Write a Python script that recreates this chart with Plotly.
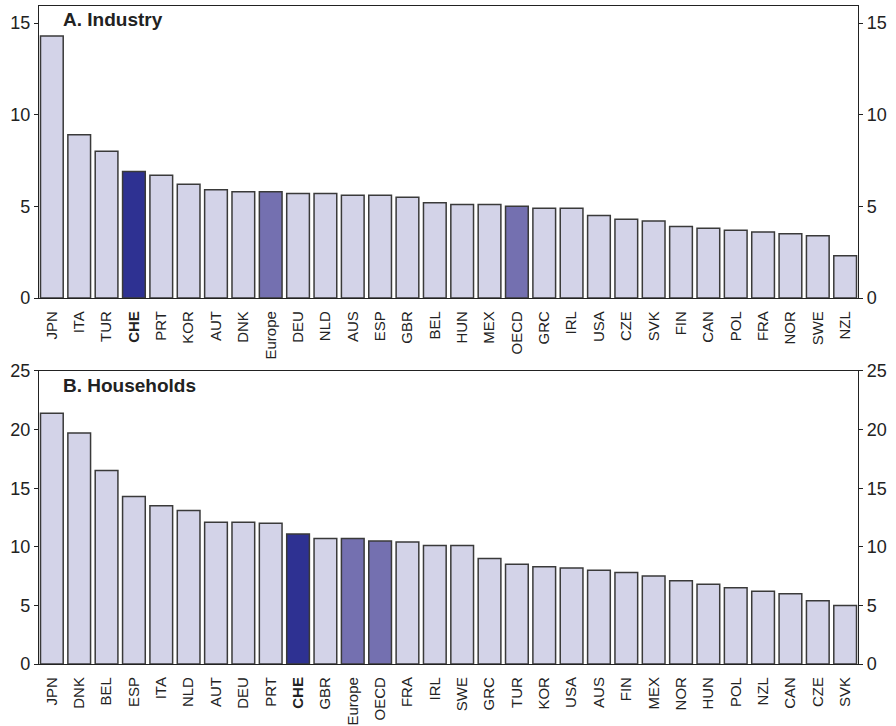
import plotly.graph_objects as go

ind_countries = ["JPN", "ITA", "TUR", "CHE", "PRT", "KOR", "AUT", "DNK", "Europe", "DEU",
                 "NLD", "AUS", "ESP", "GBR", "BEL", "HUN", "MEX", "OECD", "GRC", "IRL",
                 "USA", "CZE", "SVK", "FIN", "CAN", "POL", "FRA", "NOR", "SWE", "NZL"]
ind_values = [14.3, 8.9, 8.0, 6.9, 6.7, 6.2, 5.9, 5.8, 5.8, 5.7,
              5.7, 5.6, 5.6, 5.5, 5.2, 5.1, 5.1, 5.0, 4.9, 4.9,
              4.5, 4.3, 4.2, 3.9, 3.8, 3.7, 3.6, 3.5, 3.4, 2.3]

hh_countries = ["JPN", "DNK", "BEL", "ESP", "ITA", "NLD", "AUT", "DEU", "PRT", "CHE",
                "GBR", "Europe", "OECD", "FRA", "IRL", "SWE", "GRC", "TUR", "KOR", "USA",
                "AUS", "FIN", "MEX", "NOR", "HUN", "POL", "NZL", "CAN", "CZE", "SVK"]
hh_values = [21.4, 19.7, 16.5, 14.3, 13.5, 13.1, 12.1, 12.1, 12.0, 11.1,
             10.7, 10.7, 10.5, 10.4, 10.1, 10.1, 9.0, 8.5, 8.3, 8.2,
             8.0, 7.8, 7.5, 7.1, 6.8, 6.5, 6.2, 6.0, 5.4, 5.0]

ind_ticks = [0, 5, 10, 15]
hh_ticks = [0, 5, 10, 15, 20, 25]

C_LIGHT = "#d3d3e8"
C_CHE = "#2e3192"
C_AGG = "#7470b0"
C_LINE = "#3a3a3a"
FONT = "Liberation Sans, Arial, sans-serif"


def colours(cats):
    out = []
    for c in cats:
        if c == "CHE":
            out.append(C_CHE)
        elif c in ("Europe", "OECD"):
            out.append(C_AGG)
        else:
            out.append(C_LIGHT)
    return out


def ticktext(cats):
    return ["<b>CHE</b>" if c == "CHE" else c for c in cats]


fig = go.Figure()

fig.add_trace(go.Bar(x=ind_countries, y=ind_values, marker=dict(color=colours(ind_countries),
                     line=dict(color=C_LINE, width=1.5)), xaxis="x", yaxis="y", showlegend=False))
fig.add_trace(go.Bar(x=hh_countries, y=hh_values, marker=dict(color=colours(hh_countries),
                     line=dict(color=C_LINE, width=1.5)), xaxis="x2", yaxis="y2", showlegend=False))
# invisible traces to carry right-hand axes
fig.add_trace(go.Scatter(x=[ind_countries[0]], y=[0], mode="markers", marker=dict(opacity=0),
                         xaxis="x", yaxis="y3", showlegend=False, hoverinfo="skip"))
fig.add_trace(go.Scatter(x=[hh_countries[0]], y=[0], mode="markers", marker=dict(opacity=0),
                         xaxis="x2", yaxis="y4", showlegend=False, hoverinfo="skip"))

top_dom = [0.5562, 1.0]
bot_dom = [0.0, 0.4453]
xr = [-0.47, 29.47]

common_x = dict(type="category", tickangle=-90, showline=True, mirror=True, linecolor="#222",
                linewidth=1.2, ticks="outside", ticklen=6, tickcolor="rgba(0,0,0,0)", showgrid=False,
                tickfont=dict(family=FONT, size=15, color="#222"), range=xr, automargin=False)
common_y = dict(showline=True, linecolor="#222", linewidth=1.2, ticks="outside", ticklen=4,
                tickcolor="#222", showgrid=False, zeroline=False, automargin=False,
                tickfont=dict(family=FONT, size=18, color="#222"))

fig.update_layout(
    width=896, height=726,
    margin=dict(l=39, r=38, t=6, b=62),
    paper_bgcolor="white", plot_bgcolor="white",
    bargap=0.17,
    font=dict(family=FONT, color="#222"),
    xaxis=dict(domain=[0, 1], anchor="y", tickvals=ind_countries, ticktext=ticktext(ind_countries), **common_x),
    xaxis2=dict(domain=[0, 1], anchor="y2", tickvals=hh_countries, ticktext=ticktext(hh_countries), **common_x),
    yaxis=dict(domain=top_dom, anchor="x", range=[0, 15.93], tickvals=ind_ticks, side="left", **common_y),
    yaxis3=dict(overlaying="y", anchor="x", side="right", range=[0, 15.93], tickvals=ind_ticks, **common_y),
    yaxis2=dict(domain=bot_dom, anchor="x2", range=[0, 25], tickvals=hh_ticks, side="left", **common_y),
    yaxis4=dict(overlaying="y2", anchor="x2", side="right", range=[0, 25], tickvals=hh_ticks, **common_y),
    annotations=[
        dict(text="<b>A. Industry</b>", xref="paper", yref="paper", x=0.027, y=0.998,
             xanchor="left", yanchor="top", showarrow=False, font=dict(family=FONT, size=19, color="#222")),
        dict(text="<b>B. Households</b>", xref="paper", yref="paper", x=0.027, y=0.443,
             xanchor="left", yanchor="top", showarrow=False, font=dict(family=FONT, size=19, color="#222")),
    ],
)

fig.write_html("out.html", config={"displayModeBar": False},
               post_script="document.body.style.margin='0';document.body.style.overflow='hidden';")
